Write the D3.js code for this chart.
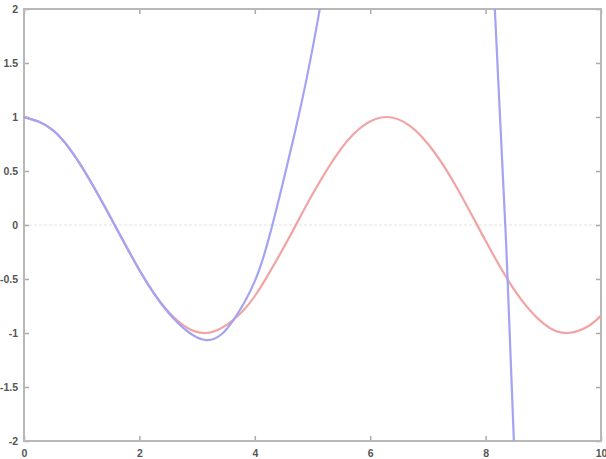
<!DOCTYPE html>
<html>
<head>
<meta charset="utf-8">
<script src="https://cdn.jsdelivr.net/npm/d3@7"></script>
<style>
  body { margin: 0; background: #fff; }
  svg { display: block; }
  .tick-label { font-family: "Liberation Sans", Arial, sans-serif; font-size: 10.5px; font-weight: bold; fill: #555; }
</style>
</head>
<body>
<div id="chart"></div>
<script>
// values
var xTicks = [0, 2, 4, 6, 8, 10];
var yTicks = [2, 1.5, 1, 0.5, 0, -0.5, -1, -1.5, -2];

// red curve
var redX = [0, 0.5, 1, 1.5, 2, 2.5, 3.14, 3.8, 4.2, 4.6, 5, 5.5, 5.9, 6.28, 6.7, 7.1, 7.5, 8, 8.5, 9, 9.42, 9.8, 10];
var redY = [1, 0.878, 0.540, 0.071, -0.416, -0.801, -1, -0.791, -0.490, -0.112, 0.284, 0.709, 0.927, 1, 0.914, 0.683, 0.347, -0.146, -0.602, -0.911, -1, -0.930, -0.839];

// blue curve (null = leaves the plot area)
var blueX = [0, 0.5, 1, 1.5, 2, 2.5, 3.14, 3.63, 4.0, 4.25, 4.5, 4.7, 4.9, 5.1, 5.2, 6.6, 8.1, 8.16, 8.32, 8.38, 8.49, 8.52];
var blueY = [1, 0.878, 0.540, 0.070, -0.418, -0.81, -1.065, -0.88, -0.52, -0.11, 0.42, 0.87, 1.36, 1.92, 2.25, null, 2.7, 2.0, 0.23, -0.49, -2.0, -2.4];

var width = 606, height = 459;
var margin = {left: 24, right: 5, top: 9, bottom: 18};

var svg = d3.select("#chart").append("svg")
    .attr("width", width)
    .attr("height", height);

var x = d3.scaleLinear().domain([0, 10]).range([margin.left, width - margin.right]);
var y = d3.scaleLinear().domain([-2, 2]).range([height - margin.bottom, margin.top]);

svg.append("defs").append("clipPath").attr("id", "clip")
    .append("rect")
    .attr("x", x(0)).attr("y", y(2))
    .attr("width", x(10) - x(0)).attr("height", y(-2) - y(2));

// zero line
svg.append("line")
    .attr("x1", x(0)).attr("x2", x(10))
    .attr("y1", y(0)).attr("y2", y(0))
    .attr("stroke", "#e2e2e2")
    .attr("stroke-width", 1)
    .attr("stroke-dasharray", "3,2");

// axes, ticks on every side pointing inward
var tickLen = -5;
var axisStyle = function(g){
    g.select(".domain").remove();
    g.selectAll(".tick line").attr("stroke", "#aaa").attr("stroke-width", 1.5);
    g.selectAll(".tick text").attr("class", "tick-label");
};
svg.append("g").attr("transform", "translate(0," + y(-2) + ")")
    .call(d3.axisBottom(x).tickValues(xTicks).tickSize(tickLen).tickPadding(9).tickFormat(d3.format("d")))
    .call(axisStyle);
svg.append("g").attr("transform", "translate(0," + y(2) + ")")
    .call(d3.axisTop(x).tickValues(xTicks).tickSize(tickLen).tickFormat(""))
    .call(axisStyle);
svg.append("g").attr("transform", "translate(" + x(0) + ",0)")
    .call(d3.axisLeft(y).tickValues(yTicks).tickSize(tickLen).tickPadding(6).tickFormat(function(d){ return String(d); }))
    .call(axisStyle);
svg.append("g").attr("transform", "translate(" + x(10) + ",0)")
    .call(d3.axisRight(y).tickValues(yTicks).tickSize(tickLen).tickFormat(""))
    .call(axisStyle);

svg.selectAll(".tick-label").attr("fill", "#555").style("font-weight", "bold");

// frame
svg.append("rect")
    .attr("x", x(0)).attr("y", y(2))
    .attr("width", x(10) - x(0)).attr("height", y(-2) - y(2))
    .attr("fill", "none")
    .attr("stroke", "#b8b8b8")
    .attr("stroke-width", 2);

var line = d3.line()
    .defined(function(d){ return d[1] !== null; })
    .x(function(d){ return x(d[0]); })
    .y(function(d){ return y(d[1]); })
    .curve(d3.curveNatural);

var red = redX.map(function(v, i){ return [v, redY[i]]; });
var blue = blueX.map(function(v, i){ return [v, blueY[i]]; });

var plot = svg.append("g").attr("clip-path", "url(#clip)");
plot.append("path").datum(red)
    .attr("d", line)
    .attr("fill", "none")
    .attr("stroke", "#f2a3a3")
    .attr("stroke-width", 2.2);
plot.append("path").datum(blue)
    .attr("d", line)
    .attr("fill", "none")
    .attr("stroke", "#a3a3f5")
    .attr("stroke-width", 2.2);
</script>
</body>
</html>
